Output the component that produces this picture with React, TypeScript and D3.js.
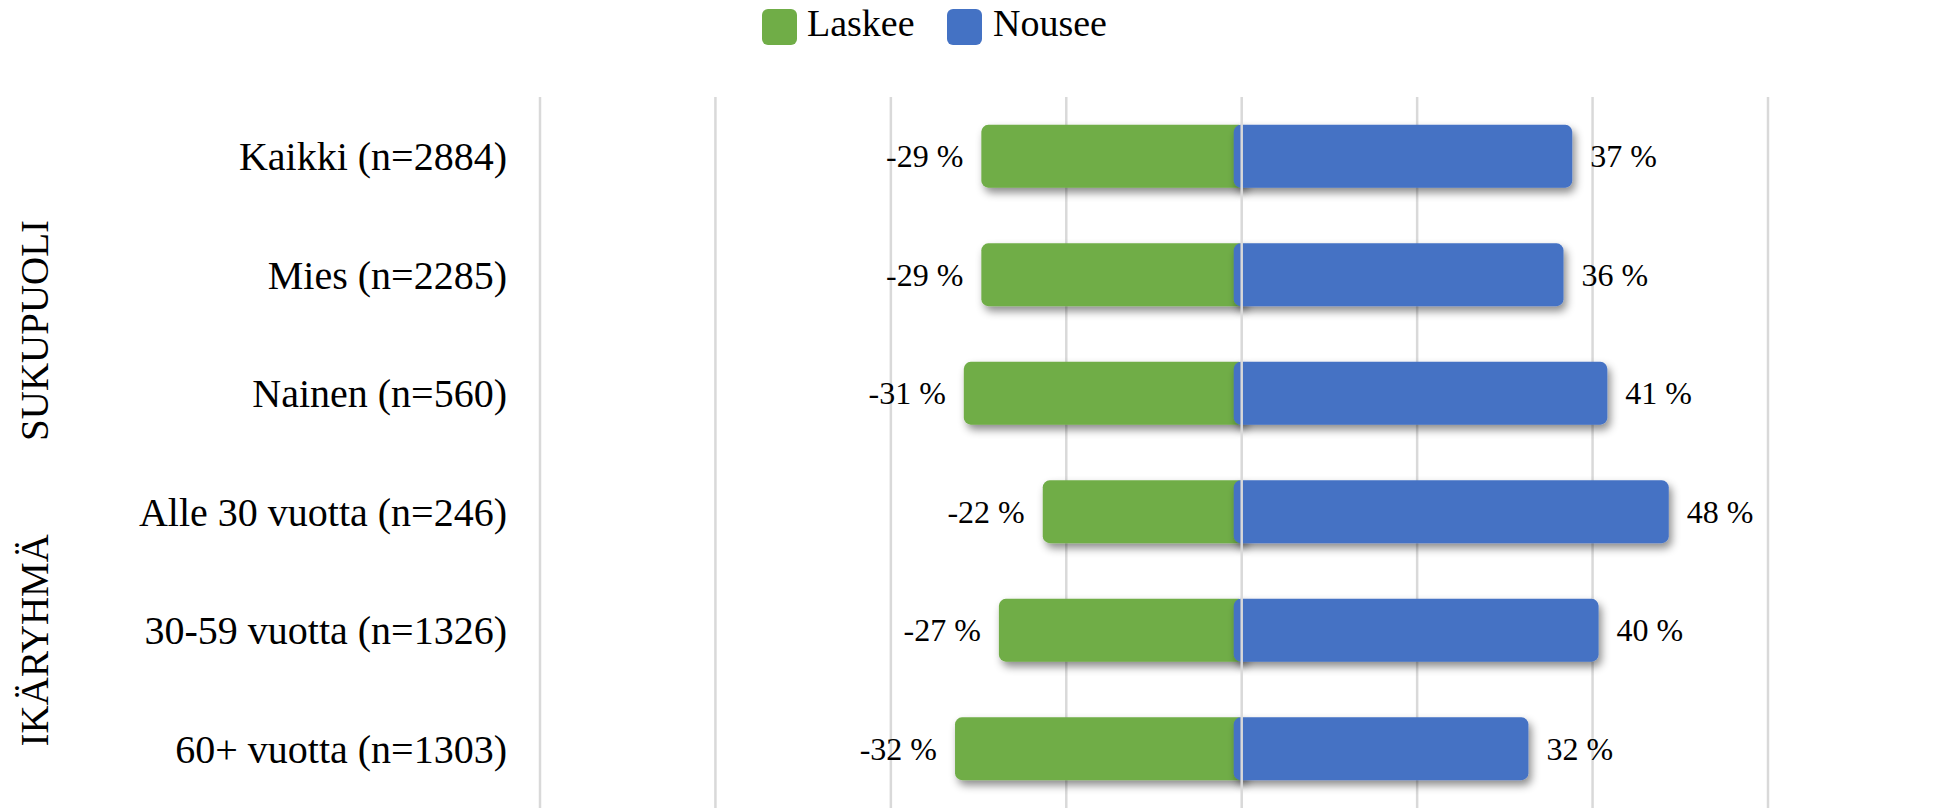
import React from "react";
import * as d3 from "d3";

const categories = [
  "Kaikki (n=2884)",
  "Mies (n=2285)",
  "Nainen (n=560)",
  "Alle 30 vuotta (n=246)",
  "30-59 vuotta (n=1326)",
  "60+ vuotta (n=1303)",
];
const laskee = [-29, -29, -31, -22, -27, -32];
const nousee = [37, 36, 41, 48, 40, 32];
const seriesNames = ["Laskee", "Nousee"];
const seriesColors = ["#70AD47", "#4472C4"];
const gridTicks = [-80, -60, -40, -20, 0, 20, 40, 60];
const groupLabels = ["SUKUPUOLI", "IKÄRYHMÄ"];

const W = 1936;
const H = 808;
const FONT = "'Liberation Serif', 'Times New Roman', serif";

export default function App() {
  const x = d3.scaleLinear().domain([-80, 60]).range([540, 1768]);
  const y = d3.scaleBand<string>().domain(categories).range([97, 808]).paddingInner(0.47).paddingOuter(0.235);
  const bw = y.bandwidth();
  const step = y.step();
  const x0 = x(0);

  const groupY = [
    (y(categories[1]) as number) + bw / 2 + step * 0.47,
    (y(categories[4]) as number) + bw / 2 + 10,
  ];

  const legendItems = [
    { name: seriesNames[0], color: seriesColors[0], sx: 762, tx: 807 },
    { name: seriesNames[1], color: seriesColors[1], sx: 947, tx: 993 },
  ];

  return (
    <svg
      width={W}
      height={H}
      style={{ position: "absolute", left: 0, top: 0, display: "block", background: "#fff" }}
      fontFamily={FONT}
    >
      <defs>
        <filter id="shadow" x="-10%" y="-30%" width="130%" height="180%">
          <feDropShadow dx="3" dy="5" stdDeviation="4" floodColor="#000" floodOpacity="0.45" />
        </filter>
      </defs>
      <rect x={0} y={0} width={W} height={H} fill="#fff" />

      {/* legend */}
      {legendItems.map((it) => (
        <g key={it.name}>
          <rect x={it.sx} y={9} width={35} height={36} rx={6} fill={it.color} />
          <text x={it.tx} y={36} fontSize={38} fill="#000">
            {it.name}
          </text>
        </g>
      ))}

      {/* gridlines */}
      {gridTicks
        .filter((t) => t !== 0)
        .map((t) => (
          <line key={t} x1={x(t)} x2={x(t)} y1={97} y2={H} stroke="#d9d9d9" strokeWidth={2.5} />
        ))}

      {/* category labels */}
      {categories.map((c) => (
        <text
          key={c}
          x={507}
          y={(y(c) as number) + bw / 2 + 14}
          textAnchor="end"
          fontSize={40}
          fill="#000"
        >
          {c}
        </text>
      ))}

      {/* group labels */}
      {groupLabels.map((g, i) => (
        <text
          key={g}
          transform={`translate(48,${groupY[i]}) rotate(-90)`}
          textAnchor="middle"
          fontSize={39}
          fill="#000"
        >
          {g}
        </text>
      ))}

      {/* green bars */}
      {categories.map((c, i) => {
        const v = laskee[i];
        const xl = x(v) - 6;
        return (
          <rect
            key={"g" + c}
            x={xl}
            y={y(c) as number}
            width={x0 + 4 - xl}
            height={bw}
            rx={7}
            fill={seriesColors[0]}
            filter="url(#shadow)"
          />
        );
      })}
      {/* blue bars */}
      {categories.map((c, i) => {
        const v = nousee[i];
        const xl = x0 - 8;
        return (
          <rect
            key={"b" + c}
            x={xl}
            y={y(c) as number}
            width={x(v) + 6 - xl}
            height={bw}
            rx={7}
            fill={seriesColors[1]}
            filter="url(#shadow)"
          />
        );
      })}

      {/* zero axis line */}
      <line x1={x0} x2={x0} y1={97} y2={H} stroke="#d9d9d9" strokeWidth={2.5} />

      {/* value labels */}
      {categories.map((c, i) => (
        <g key={"l" + c}>
          <text
            x={x(laskee[i]) - 24}
            y={(y(c) as number) + bw / 2 + 11}
            textAnchor="end"
            fontSize={32}
            fill="#000"
          >
            {`${laskee[i]} %`}
          </text>
          <text
            x={x(nousee[i]) + 24}
            y={(y(c) as number) + bw / 2 + 11}
            textAnchor="start"
            fontSize={32}
            fill="#000"
          >
            {`${nousee[i]} %`}
          </text>
        </g>
      ))}
    </svg>
  );
}
